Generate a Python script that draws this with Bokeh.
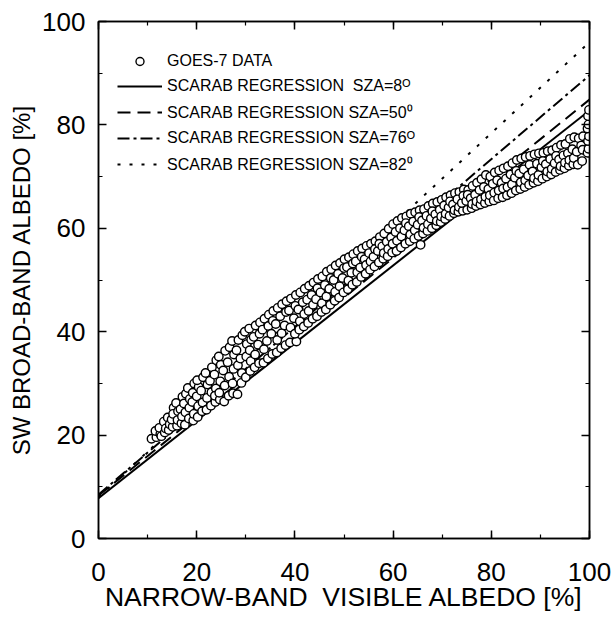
from bokeh.plotting import figure
from bokeh.models import (Range1d, LinearAxis, SingleIntervalTicker, Legend, LegendItem,
                          ColumnDataSource, CustomJSTickFormatter)
from bokeh.embed import file_html
from bokeh.resources import INLINE

# ---------------- data ----------------
goes_x = [
    10.8, 11.8, 11.6, 12.6, 12.4, 12.8,
    13.5, 13.3, 13.7, 14.3, 14.1, 14.5,
    15.1, 15.3, 14.9, 15.2, 16.0, 16.2, 15.8, 16.1,
    16.9, 17.1, 16.7, 17.0, 17.6, 17.8, 17.4, 17.7,
    18.4, 18.6, 18.2, 18.5, 19.3, 19.5, 19.1, 19.4, 19.2,
    20.2, 20.4, 20.0, 20.3, 20.1, 21.1, 21.3, 20.9, 21.2,
    22.0, 22.2, 21.8, 22.1, 22.9, 23.1, 22.7, 23.0,
    23.8, 24.0, 23.6, 23.9, 23.7, 24.7, 24.9, 24.5, 24.8, 24.6,
    25.6, 25.8, 25.4, 25.7, 26.5, 26.7, 26.3, 26.6,
    27.4, 27.6, 27.2, 27.5, 27.3, 28.3, 28.5, 28.1, 28.4,
    29.1, 29.3, 28.9, 29.2, 30.0, 30.2, 29.8, 30.1,
    30.9, 31.1, 30.7, 31.0, 30.8, 31.8, 32.0, 31.6, 31.9,
    32.7, 32.9, 32.5, 32.8, 33.6, 33.8, 33.4, 33.7,
    34.5, 34.7, 34.3, 34.6, 35.4, 35.6, 35.2, 35.5,
    36.3, 36.5, 36.1, 36.4, 37.2, 37.4, 37.0, 37.3,
    38.1, 38.3, 37.9, 38.2, 39.0, 39.2, 38.8, 39.1, 40.3,
    40.0, 40.2, 39.8, 40.1, 40.9, 41.1, 40.7, 41.0,
    41.8, 42.0, 41.6, 41.9, 42.7, 42.9, 42.5, 42.8,
    43.6, 43.8, 43.4, 43.7, 44.5, 44.7, 44.3, 44.6,
    45.4, 45.6, 45.2, 45.5, 46.3, 46.5, 46.1, 46.4,
    47.2, 47.4, 47.0, 47.3, 48.1, 48.3, 47.9, 48.2,
    49.0, 49.2, 48.8, 49.1, 49.9, 50.1, 49.7, 50.0,
    50.8, 51.0, 50.6, 50.9, 51.7, 51.9, 51.5, 51.8,
    52.6, 52.8, 52.4, 52.7, 53.5, 53.7, 53.3, 53.6,
    54.4, 54.6, 54.2, 54.5, 55.3, 55.5, 55.1, 55.4,
    56.2, 56.4, 56.0, 56.3, 57.1, 57.3, 56.9, 57.2,
    58.0, 58.2, 57.8, 58.1, 58.9, 59.1, 58.7, 59.0,
    59.8, 60.0, 59.6, 59.9, 60.7, 60.9, 60.5, 60.8,
    61.6, 61.8, 61.4, 61.7, 62.5, 62.7, 62.3, 62.6,
    63.4, 63.6, 63.2, 63.5, 64.3, 64.5, 64.1, 64.4, 65.6,
    65.2, 65.4, 65.0, 65.3, 66.1, 66.3, 65.9, 66.2,
    67.0, 67.2, 66.8, 67.1, 67.9, 68.1, 67.7, 68.0,
    68.8, 69.0, 68.6, 68.9, 69.7, 69.9, 69.5, 69.8,
    70.6, 70.8, 70.4, 70.7, 71.5, 71.7, 71.3, 71.6,
    72.4, 72.6, 72.2, 72.5, 73.3, 73.5, 73.1, 73.4,
    74.2, 74.4, 74.0, 74.3, 75.1, 75.3, 74.9, 75.2,
    76.0, 76.2, 75.8, 76.1, 76.9, 77.1, 76.7, 77.0,
    77.8, 78.0, 77.6, 77.9, 78.7, 78.9, 78.5, 78.8,
    79.6, 79.8, 79.4, 79.7, 80.5, 80.7, 80.3, 80.6,
    81.4, 81.6, 81.2, 81.5, 82.3, 82.5, 82.1, 82.4,
    83.2, 83.4, 83.0, 83.3, 84.1, 84.3, 83.9, 84.2,
    85.0, 85.2, 84.8, 85.1, 85.9, 86.1, 85.7, 86.0,
    86.8, 87.0, 86.6, 86.9, 87.7, 87.9, 87.5, 87.8,
    88.6, 88.8, 88.4, 88.7, 89.5, 89.7, 89.3, 89.6,
    90.4, 90.6, 90.2, 90.5, 91.3, 91.5, 91.1, 91.4,
    92.2, 92.4, 92.0, 92.3, 93.1, 93.3, 92.9, 93.2,
    94.0, 94.2, 93.8, 94.1, 94.9, 95.1, 94.7, 95.0,
    95.8, 96.0, 95.6, 95.9, 96.7, 96.9, 96.5, 96.8,
    97.6, 97.8, 97.4, 98.5, 98.7, 98.3, 98.6,
    99.6, 99.8, 99.7, 99.9, 99.6, 99.8, 99.7, 99.9,
]
goes_y = [
    19.3, 19.6, 20.8, 20.2, 21.4, 19.8,
    20.5, 22.6, 21.3, 21.0, 23.4, 22.1,
    21.6, 25.3, 23.0, 24.1, 21.8, 24.6, 26.2, 22.9,
    22.3, 27.4, 25.0, 23.6, 22.0, 28.0, 26.1, 24.4,
    23.2, 27.0, 29.1, 25.3, 22.8, 30.0, 26.4, 24.1, 28.2,
    23.5, 29.3, 27.5, 25.6, 30.6, 24.6, 31.2, 28.6, 26.3,
    24.9, 29.8, 32.0, 27.2, 25.7, 33.1, 30.5, 28.3,
    26.4, 34.5, 31.7, 29.0, 27.6, 26.9, 33.6, 35.2, 30.4, 28.2,
    26.5, 36.3, 32.5, 29.6, 27.6, 37.0, 34.1, 31.3,
    28.1, 35.6, 38.2, 32.8, 30.0, 27.9, 38.4, 36.4, 33.5,
    30.1, 39.3, 34.8, 32.0, 31.2, 37.6, 40.0, 35.2,
    32.4, 38.5, 40.6, 34.3, 36.4, 33.1, 41.2, 39.0, 35.6,
    33.9, 41.8, 37.5, 39.6, 34.0, 42.5, 40.4, 36.6,
    34.8, 43.3, 38.2, 41.1, 35.7, 44.0, 39.6, 42.1,
    36.0, 44.6, 41.5, 38.4, 36.8, 45.3, 43.0, 39.7,
    37.4, 45.9, 41.2, 43.8, 37.9, 46.4, 44.1, 40.8, 38.1,
    39.6, 47.1, 42.6, 45.0, 40.4, 47.6, 44.3, 42.0,
    41.0, 48.3, 45.7, 43.4, 41.7, 48.9, 46.2, 44.0,
    42.5, 49.5, 47.1, 45.2, 43.0, 50.2, 46.3, 48.4,
    43.8, 50.7, 47.6, 45.5, 44.3, 51.6, 49.0, 46.8,
    45.2, 52.1, 48.3, 50.4, 46.0, 52.8, 50.0, 47.7,
    46.6, 53.3, 51.2, 48.8, 47.6, 54.0, 50.4, 52.3,
    48.2, 54.4, 52.5, 49.9, 49.1, 55.0, 51.4, 53.2,
    49.6, 55.6, 53.6, 51.5, 50.6, 56.1, 52.4, 54.5,
    51.2, 56.6, 54.0, 52.9, 52.0, 57.0, 55.2, 53.6,
    52.6, 57.5, 54.5, 56.0, 53.4, 58.3, 55.6, 57.0,
    54.1, 59.0, 56.5, 55.2, 54.6, 59.9, 57.4, 56.0,
    55.3, 60.8, 58.2, 57.0, 55.6, 61.4, 59.3, 57.6,
    56.3, 62.0, 60.0, 58.4, 57.0, 62.3, 59.6, 61.0,
    57.5, 62.8, 60.4, 58.8, 58.0, 63.1, 61.3, 59.6, 56.8,
    58.5, 63.5, 60.7, 62.2, 59.0, 63.7, 61.5, 60.1,
    59.5, 64.3, 62.4, 60.8, 60.0, 64.8, 61.9, 63.3,
    60.6, 65.1, 62.7, 61.4, 61.2, 65.5, 63.6, 62.3,
    61.8, 66.0, 64.4, 62.8, 62.4, 66.4, 64.0, 65.2,
    62.9, 66.8, 64.6, 63.5, 63.2, 67.0, 65.6, 64.1,
    63.4, 67.5, 64.9, 66.3, 63.6, 67.4, 65.3, 66.5,
    63.9, 68.2, 65.8, 64.7, 64.3, 68.8, 66.5, 65.2,
    64.6, 69.5, 67.4, 65.6, 64.9, 70.3, 68.0, 66.1,
    65.2, 70.0, 67.6, 66.4, 65.4, 70.8, 68.6, 66.9,
    65.8, 71.2, 69.3, 67.3, 66.0, 71.6, 68.8, 67.7,
    66.4, 72.0, 69.6, 68.0, 66.8, 72.6, 70.4, 68.5,
    67.3, 73.2, 69.8, 71.1, 67.6, 73.5, 70.6, 68.9,
    68.0, 73.8, 71.4, 69.3, 68.4, 74.0, 70.2, 72.3,
    68.8, 74.3, 71.0, 69.7, 69.1, 74.5, 72.5, 70.3,
    69.6, 74.6, 71.8, 73.0, 70.0, 74.9, 72.4, 71.0,
    70.4, 75.1, 73.4, 71.5, 70.9, 75.6, 72.6, 74.0,
    71.3, 76.1, 73.3, 72.0, 71.6, 76.3, 74.1, 72.7,
    72.1, 77.3, 74.5, 73.2, 72.4, 77.6, 75.3, 73.6,
    72.3, 77.4, 74.8, 73.0, 77.8, 76.0, 75.2,
    74.6, 75.4, 76.9, 77.8, 79.3, 80.1, 81.7, 82.9,
]

# regression lines: end points at 0 % and 100 % visible albedo
reg_x = [0, 100]
sza8_y = [7.8, 82.8]
sza50_y = [8.3, 84.9]
sza76_y = [8.5, 89.6]
sza82_y = [8.0, 96.0]

labels = ["GOES-7 DATA",
          "SCARAB REGRESSION \u00a0SZA=8\u1d3c",
          "SCARAB REGRESSION SZA=50\u2070",
          "SCARAB REGRESSION SZA=76\u1d3c",
          "SCARAB REGRESSION SZA=82\u2070"]
x_title = "NARROW-BAND \u00a0VISIBLE ALBEDO [%]"
y_title = "SW BROAD-BAND ALBEDO [%]"

FONT = "Liberation Sans"

p = figure(width=611, height=619, x_range=Range1d(0, 100), y_range=Range1d(0, 100),
           output_backend="svg", toolbar_location=None,
           x_axis_type=None, y_axis_type=None,
           min_border_left=98, min_border_right=22, min_border_top=21, min_border_bottom=81)
p.outline_line_color = "black"
p.outline_line_width = 1.5
p.background_fill_color = "white"
p.border_fill_color = "white"


def make_axis(with_labels, label=None, label_size="25px"):
    ax = LinearAxis(ticker=SingleIntervalTicker(interval=20, num_minor_ticks=2))
    ax.major_tick_in = 8
    ax.major_tick_out = 0
    ax.minor_tick_in = 4
    ax.minor_tick_out = 0
    ax.axis_line_width = 1.5
    ax.axis_line_color = "black"
    ax.major_tick_line_width = 1.5
    ax.minor_tick_line_width = 1.2
    ax.major_tick_line_color = "black"
    ax.minor_tick_line_color = "black"
    if with_labels:
        ax.major_label_text_font = FONT
        ax.major_label_text_font_size = "26px"
        ax.major_label_text_color = "black"
        ax.axis_label = label
        ax.axis_label_text_font = FONT
        ax.axis_label_text_font_size = label_size
        ax.axis_label_text_font_style = "normal"
        ax.axis_label_text_color = "black"
    else:
        ax.formatter = CustomJSTickFormatter(code="return ''")
        ax.major_label_standoff = 0
    return ax


xb = make_axis(True, x_title, "26.5px")
xb.major_label_standoff = 24
xb.axis_label_standoff = -2
yl = make_axis(True, y_title, "24px")
yl.major_label_standoff = 13
yl.axis_label_standoff = 4
p.add_layout(xb, "below")
p.add_layout(yl, "left")
p.add_layout(make_axis(False), "above")
p.add_layout(make_axis(False), "right")

r8 = p.line(reg_x, sza8_y, line_color="black", line_width=2)
r50 = p.line(reg_x, sza50_y, line_color="black", line_width=2, line_dash="13 7")
r76 = p.line(reg_x, sza76_y, line_color="black", line_width=2, line_dash="12 4 3 4")
r82 = p.line(reg_x, sza82_y, line_color="black", line_width=2, line_dash="3 9")

src = ColumnDataSource(dict(x=goes_x, y=goes_y))
sc = p.scatter("x", "y", source=src, marker="circle", size=8.5,
               fill_color="white", line_color="black", line_width=1.4)

legend = Legend(items=[LegendItem(label=labels[0], renderers=[sc]),
                       LegendItem(label=labels[1], renderers=[r8]),
                       LegendItem(label=labels[2], renderers=[r50]),
                       LegendItem(label=labels[3], renderers=[r76]),
                       LegendItem(label=labels[4], renderers=[r82])],
                location=(19, 363))
legend.label_text_font = FONT
legend.label_text_font_size = "16px"
legend.label_text_color = "black"
legend.glyph_width = 45
legend.glyph_height = 20
legend.label_height = 20
legend.spacing = 5
legend.label_standoff = 5
legend.padding = 0
legend.margin = 0
legend.border_line_color = None
legend.background_fill_alpha = 0
p.add_layout(legend, "center")

open("out.html", "w").write(file_html(p, INLINE))
